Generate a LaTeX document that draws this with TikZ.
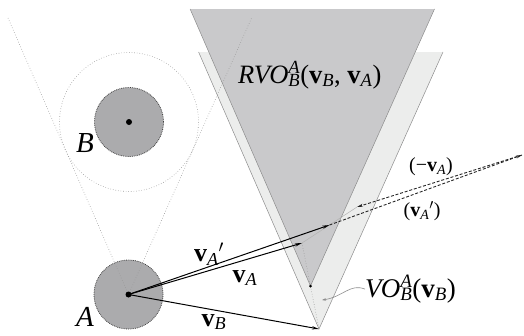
\documentclass[tikz,border=0pt]{standalone}
\usepackage{fontspec}
\setmainfont{Liberation Serif}
\usetikzlibrary{arrows.meta}
\definecolor{rvocol}{RGB}{201,201,203}
\definecolor{vocol}{RGB}{236,237,236}
\definecolor{diskcol}{RGB}{171,171,173}
\definecolor{edgecol}{RGB}{140,140,140}
\newcommand\vsb[1]{\textbf{v}\textsubscript{\itshape #1}}
\begin{document}
\begin{tikzpicture}[x=1pt,y=-1pt,
  vec/.style={black, line width=1pt, -{Stealth[length=7pt,width=3.2pt]}},
  dvec/.style={black!85, line width=0.9pt, dash pattern=on 3pt off 1.8pt, -{Stealth[length=6pt,width=3pt]}},
  coneedge/.style={edgecol, line width=0.5pt},
  guide/.style={gray!80, dotted, line width=0.6pt},
  disc/.style={circle, fill=diskcol, draw=black!75, densely dotted, line width=0.8pt, minimum size=69pt, inner sep=0pt},
  cdot/.style={circle, fill=black, inner sep=0pt, minimum size=6pt},
  lbl/.style={inner sep=0pt},
  big/.style={lbl, font=\fontsize{29}{32}\selectfont\itshape},
  mid/.style={lbl, font=\fontsize{26}{28}\selectfont},
  sml/.style={lbl, font=\fontsize{20}{24}\selectfont}]
\useasboundingbox (0,0) rectangle (524,335);
% key points
\coordinate (A) at (128.5,294.5);
\coordinate (B) at (129,122);
\coordinate (vBtip) at (319,329);
\coordinate (vAtip) at (302,243);
\coordinate (vAptip) at (329.5,225);
\coordinate (M) at (357,207);
\coordinate (F) at (522,155);
\coordinate (R) at (310.5,286);
\coordinate (TL) at (8,18);
\coordinate (TR) at (252,17);
\coordinate (ptr) at (322,300);
% VO cone
\fill[vocol] (vBtip) -- (198.6,52) -- (443,52) -- cycle;
\draw[coneedge] (198.6,52) -- (vBtip) -- (443,52);
% RVO cone
\fill[rvocol] (R) -- (190.1,9) -- (434.5,9) -- cycle;
\draw[coneedge] (190.1,9) -- (R) -- (434.5,9);
% disks
\node[disc] (dB) at (B) {};
\node[disc] (dA) at (A) {};
\draw[guide] (B) circle[radius=69.5];
\draw[guide] (TL) -- (A) -- (TR);
\node[cdot] (cB) at (B) {};
\node[cdot] (cA) at (A) {};
% guides in velocity space
\draw[gray!60, line width=0.5pt] (vAtip) -- (M);
\draw[guide] (vAtip) -- (vBtip);
\fill[black] (R) circle[radius=1.5];
% velocity vectors
\draw[vec] (A) -- (vAptip);
\draw[vec] (A) -- (vAtip);
\draw[vec] (A) -- (vBtip);
\draw[dvec] (F) -- (M);
\draw[dvec] (vAptip) -- (F);
% labels
\node[big] (labA) at (85,317) {A};
\node[big] (labB) at (85,143) {B};
\node[mid] (lvAp) at (209,254) {\vsb{A}$'$};
\node[mid] (lvA) at (245,278) {\vsb{A}};
\node[mid] (lvB) at (214,322) {\vsb{B}};
\node[sml] (lmvA) at (431,167) {(−\vsb{A})};
\node[sml] (lvApp) at (422,211) {(\vsb{A}$'$)};
\node[lbl, anchor=base west, font=\fontsize{26.5}{30}\selectfont] (lRVO) at (238,83)
  {\textit{RVO}\rlap{\textsuperscript{\itshape A}}\textsubscript{\itshape B}(\vsb{B}, \vsb{A})};
\node[lbl, anchor=base west, font=\fontsize{27}{30}\selectfont] (lVO) at (365,297)
  {\textit{VO}\rlap{\textsuperscript{\itshape A}}\textsubscript{\itshape B}(\vsb{B})};
\draw[edgecol, line width=0.6pt, -{Stealth[length=4pt,width=2.6pt]}] (lVO.west) .. controls (350,283) and (343,297) .. (ptr);
\end{tikzpicture}
\end{document}
